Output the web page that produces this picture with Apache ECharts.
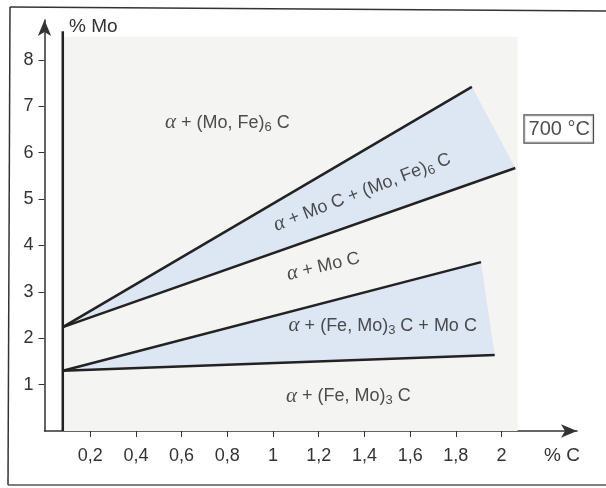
<!doctype html>
<html lang="fr">
<head>
    <meta charset="UTF-8">
    <title>Diagramme Fe-Mo-C 700 °C</title>
    <style>
        html, body { margin: 0; padding: 0; background: #fff; }
    </style>
</head>
<body>
    <script src="https://cdn.jsdelivr.net/npm/echarts@6/dist/echarts.min.js"></script>
    <div id="chart" style="width: 606px; height: 488px"></div>

    <script>
        // ticks
        var xTicks = [0.2, 0.4, 0.6, 0.8, 1, 1.2, 1.4, 1.6, 1.8, 2];
        var yTicks = [1, 2, 3, 4, 5, 6, 7, 8];

        // phase boundaries (% C, % Mo)
        var wallLine = [[0.08, 0], [0.08, 8.62]];
        var lineA = [[0.08, 2.24], [1.87, 7.42]];
        var lineB = [[0.08, 2.24], [2.06, 5.67]];
        var lineC = [[0.08, 1.3], [1.91, 3.64]];
        var lineD = [[0.08, 1.3], [1.97, 1.64]];

        // shaded three-phase fields
        var wedgeUpper = [lineA[0], lineA[1], lineB[1]];
        var wedgeLower = [lineC[0], lineC[1], lineD[1]];

        // field names
        var fieldText = [
            '{a|α} + (Mo, Fe){s|6} C',
            '{a|α} + Mo C + (Mo, Fe){s|6} C',
            '{a|α} + Mo C',
            '{a|α} + (Fe, Mo){s|3} C + Mo C',
            '{a|α} + (Fe, Mo){s|3} C'
        ];
        var fieldPos = [[0.80, 6.64], [1.39, 5.15], [1.22, 3.55], [1.48, 2.27], [1.33, 0.75]];
        var fieldAngle = [0, 21, 13, 0, 0];

        var tempText = '700 °C';
        var tempPos = [2.25, 6.51];

        var ink = '#222';
        var richStyle = {
            a: { fontFamily: 'Liberation Serif', fontStyle: 'italic', fontSize: 21, color: ink, lineHeight: 22 },
            s: { fontFamily: 'Liberation Sans', fontSize: 13, color: ink, lineHeight: 9, verticalAlign: 'bottom' }
        };

        function boundary(data) {
            return {
                type: 'line',
                data: data,
                symbol: 'none',
                silent: true,
                z: 5,
                lineStyle: { color: ink, width: 2.5 }
            };
        }

        function wedge(points) {
            return {
                type: 'custom',
                data: points,
                silent: true,
                z: 2,
                renderItem: function (params, api) {
                    if (params.dataIndex !== 0) return;
                    return {
                        type: 'polygon',
                        shape: { points: points.map(function (p) { return api.coord(p); }) },
                        style: { fill: '#dde7f4' }
                    };
                }
            };
        }

        var labelData = fieldText.map(function (t, i) {
            return {
                value: fieldPos[i],
                label: { formatter: t, rotate: fieldAngle[i] }
            };
        });

        var option = {
            animation: false,
            grid: { left: 44.5, right: 29, top: 20, bottom: 57 },
            xAxis: {
                type: 'value',
                min: 0,
                max: 2.33,
                splitLine: { show: false },
                axisLine: {
                    lineStyle: { color: '#333', width: 1.5 },
                    symbol: ['none', 'arrow'],
                    symbolSize: [10, 16]
                },
                axisTick: { customValues: xTicks, length: 6, lineStyle: { color: '#333' } },
                axisLabel: {
                    customValues: xTicks,
                    margin: 16,
                    fontFamily: 'Liberation Sans',
                    fontSize: 18,
                    color: '#333',
                    formatter: function (v) { return String(v).replace('.', ','); }
                }
            },
            yAxis: {
                type: 'value',
                min: 0,
                max: 8.86,
                splitLine: { show: false },
                axisLine: {
                    lineStyle: { color: '#333', width: 1.5 },
                    symbol: ['none', 'arrow'],
                    symbolSize: [10, 16]
                },
                axisTick: { customValues: yTicks, length: 6, lineStyle: { color: '#333' } },
                axisLabel: {
                    customValues: yTicks,
                    margin: 11,
                    fontFamily: 'Liberation Sans',
                    fontSize: 18,
                    color: '#333'
                }
            },
            graphic: [
                { type: 'line', shape: { x1: 10, y1: 7, x2: 606, y2: 11 }, style: { stroke: '#333', lineWidth: 1.5 } },
                { type: 'line', shape: { x1: 10, y1: 7, x2: 8, y2: 485 }, style: { stroke: '#333', lineWidth: 1.5 } },
                { type: 'line', shape: { x1: 8, y1: 485, x2: 606, y2: 485 }, style: { stroke: '#555', lineWidth: 1.5 } },
                { type: 'text', left: 69, top: 17, style: { text: '% Mo', fontFamily: 'Liberation Sans', fontSize: 19, fill: '#333' } },
                { type: 'text', left: 544, top: 446, style: { text: '% C', fontFamily: 'Liberation Sans', fontSize: 19, fill: '#333' } }
            ],
            series: [
                {
                    type: 'line',
                    data: [],
                    silent: true,
                    markArea: {
                        silent: true,
                        itemStyle: { color: '#f4f4f3' },
                        data: [[{ coord: [0.08, 0] }, { coord: [2.07, 8.5] }]]
                    }
                },
                wedge(wedgeUpper),
                wedge(wedgeLower),
                boundary(wallLine),
                boundary(lineA),
                boundary(lineB),
                boundary(lineC),
                boundary(lineD),
                {
                    type: 'scatter',
                    data: labelData,
                    symbolSize: 0,
                    silent: true,
                    z: 6,
                    label: {
                        show: true,
                        position: 'inside',
                        fontFamily: 'Liberation Sans',
                        fontSize: 18,
                        color: ink,
                        lineHeight: 22,
                        rich: richStyle
                    }
                },
                {
                    type: 'scatter',
                    data: [tempPos],
                    symbolSize: 0,
                    silent: true,
                    z: 6,
                    label: {
                        show: true,
                        position: 'inside',
                        formatter: tempText,
                        fontFamily: 'Liberation Sans',
                        fontSize: 20,
                        color: ink,
                        backgroundColor: '#fff',
                        borderColor: '#222',
                        borderWidth: 1.2,
                        padding: [4, 3, 3, 4]
                    }
                }
            ]
        };

        var chart = echarts.init(document.getElementById('chart'));
        chart.setOption(option);
    </script>
</body>
</html>
